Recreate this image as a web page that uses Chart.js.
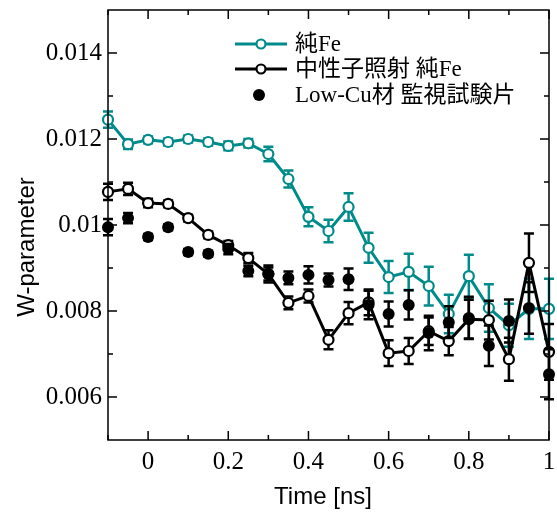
<!DOCTYPE html>
<html>
<head>
<meta charset="utf-8">
<title>W-parameter vs time</title>
<script src="https://cdn.jsdelivr.net/npm/chart.js@4.4.0/dist/chart.umd.min.js"></script>
<style>
  html, body { margin: 0; padding: 0; background: #fff; }
  #wrap { width: 557px; height: 514px; }
</style>
</head>
<body>
<div id="wrap"><canvas id="wChart" width="557" height="514"></canvas></div>
<script>
// time points (ns)
const times = [-0.1, -0.05, 0, 0.05, 0.1, 0.15, 0.2, 0.25, 0.3, 0.35, 0.4, 0.45,
  0.5, 0.55, 0.6, 0.65, 0.7, 0.75, 0.8, 0.85, 0.9, 0.95, 1.0];

// 純Fe
const pureFe = [0.01245, 0.01188, 0.01198, 0.01193, 0.01200, 0.01193, 0.01184, 0.01190,
  0.01165, 0.01107, 0.01019, 0.00986, 0.01042, 0.00947, 0.00879, 0.00891, 0.00858,
  0.00793, 0.00881, 0.00807, 0.00767, 0.00805, 0.00805];
const pureFeErr = [0.00019, 0.00011, 0.00008, 0.00008, 0.00008, 0.00008, 0.0001, 0.0001,
  0.00017, 0.0002, 0.00022, 0.00026, 0.00032, 0.00035, 0.00037, 0.00042, 0.00045,
  0.00045, 0.0005, 0.00055, 0.0005, 0.0007, 0.0007];

// 中性子照射 純Fe
const irrFe = [0.01077, 0.01084, 0.01051, 0.01049, 0.01016, 0.00977, 0.00953, 0.00923,
  0.00886, 0.00819, 0.00835, 0.00733, 0.00795, 0.0082, 0.00702, 0.00707, 0.00753,
  0.0073, 0.00781, 0.00779, 0.00688, 0.00912, 0.00705];
const irrFeErr = [0.00019, 0.00014, 0.0001, 0.00008, 0.00008, 0.00008, 0.0001, 0.00012,
  0.00015, 0.00015, 0.00015, 0.00022, 0.00026, 0.0003, 0.0003, 0.0003, 0.00032,
  0.00033, 0.00045, 0.00045, 0.0005, 0.00068, 0.00065];

// Low-Cu材 監視試験片
const lowCu = [0.00995, 0.01016, 0.00972, 0.00995, 0.00937, 0.00933, 0.00944, 0.00893,
  0.00886, 0.00877, 0.00884, 0.00872, 0.00874, 0.00814, 0.00793, 0.00814, 0.00749,
  0.00774, 0.00784, 0.00719, 0.00777, 0.00807, 0.00653];
const lowCuErr = [0.00019, 0.00012, 0.00007, 0.00007, 0.00007, 0.00007, 0.00012, 0.00012,
  0.0002, 0.00015, 0.0002, 0.00015, 0.00025, 0.00033, 0.00029, 0.00034, 0.0004,
  0.00037, 0.00049, 0.00047, 0.0005, 0.0006, 0.00058];

const xTicks = [0, 0.2, 0.4, 0.6, 0.8, 1];
const xMinorTicks = [-0.1, 0.1, 0.3, 0.5, 0.7, 0.9];
const yTicks = [0.006, 0.008, 0.01, 0.012, 0.014];
const yMinorTicks = [0.007, 0.009, 0.011, 0.013];

const TEAL = '#008b8b';
const serif = '"Liberation Serif", "Noto Sans CJK JP", serif';
const sans = '"Liberation Sans", Arial, sans-serif';

const toPoints = (vals) => times.map((t, i) => ({ x: t, y: vals[i] }));

// scales get a fixed box; labels may overhang the plot edges
const noPad = (s) => { s.paddingTop = s.paddingBottom = s.paddingLeft = s.paddingRight = 0; };

// error bars, frame, inward ticks, axis titles and legend
const plotDecor = {
  id: 'plotDecor',
  beforeDatasetDraw(chart, args) {
    const ds = chart.data.datasets[args.index];
    if (!ds.errors) return;
    const { ctx, scales: { x, y } } = chart;
    ctx.save();
    ctx.strokeStyle = ds.borderColor;
    ctx.lineWidth = 2.5;
    ds.data.forEach((p, i) => {
      const px = x.getPixelForValue(p.x);
      const top = y.getPixelForValue(p.y + ds.errors[i]);
      const bot = y.getPixelForValue(p.y - ds.errors[i]);
      ctx.beginPath();
      ctx.moveTo(px, top); ctx.lineTo(px, bot);
      ctx.moveTo(px - 5, top); ctx.lineTo(px + 5, top);
      ctx.moveTo(px - 5, bot); ctx.lineTo(px + 5, bot);
      ctx.stroke();
    });
    ctx.restore();
  },
  afterDraw(chart) {
    const { ctx, chartArea: a, scales: { x, y } } = chart;
    ctx.save();
    ctx.strokeStyle = '#000';
    ctx.lineWidth = 1.5;
    ctx.strokeRect(a.left, a.top, a.right - a.left, a.bottom - a.top);

    const tickX = (vals, len) => vals.forEach(v => {
      const px = x.getPixelForValue(v);
      ctx.beginPath();
      ctx.moveTo(px, a.bottom); ctx.lineTo(px, a.bottom - len);
      ctx.moveTo(px, a.top); ctx.lineTo(px, a.top + len);
      ctx.stroke();
    });
    const tickY = (vals, len) => vals.forEach(v => {
      const py = y.getPixelForValue(v);
      ctx.beginPath();
      ctx.moveTo(a.left, py); ctx.lineTo(a.left + len, py);
      ctx.moveTo(a.right, py); ctx.lineTo(a.right - len, py);
      ctx.stroke();
    });
    tickX(xTicks, 9); tickX(xMinorTicks, 5);
    tickY(yTicks, 9); tickY(yMinorTicks, 5);

    // axis titles
    ctx.fillStyle = '#000';
    ctx.font = '24px ' + sans;
    ctx.textAlign = 'center';
    ctx.textBaseline = 'middle';
    ctx.fillText('Time [ns]', 323, 497);
    ctx.save();
    ctx.translate(27, 247);
    ctx.rotate(-Math.PI / 2);
    ctx.fillText('W-parameter', 0, 0);
    ctx.restore();

    // legend
    const rows = [
      { text: '純Fe', color: TEAL, y: 44, line: true },
      { text: '中性子照射 純Fe', color: '#000', y: 69, line: true },
      { text: 'Low-Cu材 監視試験片', color: '#000', y: 95, line: false }
    ];
    ctx.font = '23px ' + serif;
    ctx.textAlign = 'left';
    rows.forEach(r => {
      ctx.strokeStyle = r.color;
      ctx.fillStyle = r.color;
      if (r.line) {
        ctx.lineWidth = 3;
        ctx.beginPath();
        ctx.moveTo(235, r.y); ctx.lineTo(287, r.y);
        ctx.stroke();
        ctx.beginPath();
        ctx.arc(261, r.y, 4.5, 0, Math.PI * 2);
        ctx.fillStyle = '#fff';
        ctx.fill();
        ctx.lineWidth = 2.2;
        ctx.stroke();
      } else {
        ctx.beginPath();
        ctx.arc(259, r.y, 6, 0, Math.PI * 2);
        ctx.fill();
      }
      ctx.fillStyle = '#000';
      ctx.fillText(r.text, 295, r.y + 1);
    });
    ctx.restore();
  }
};

new Chart(document.getElementById('wChart').getContext('2d'), {
  type: 'line',
  data: {
    datasets: [
      {
        label: '純Fe',
        data: toPoints(pureFe),
        errors: pureFeErr,
        borderColor: TEAL,
        borderWidth: 3,
        pointRadius: 5,
        pointBorderWidth: 2.2,
        pointBackgroundColor: '#fff',
        pointBorderColor: TEAL,
        clip: false,
        order: 3
      },
      {
        label: '中性子照射 純Fe',
        data: toPoints(irrFe),
        errors: irrFeErr,
        borderColor: '#000',
        borderWidth: 3,
        pointRadius: 5,
        pointBorderWidth: 2.2,
        pointBackgroundColor: '#fff',
        pointBorderColor: '#000',
        clip: false,
        order: 2
      },
      {
        label: 'Low-Cu材 監視試験片',
        data: toPoints(lowCu),
        errors: lowCuErr,
        borderColor: '#000',
        showLine: false,
        pointRadius: 6,
        pointBorderWidth: 0,
        pointBackgroundColor: '#000',
        clip: false,
        order: 1
      }
    ]
  },
  options: {
    responsive: false,
    animation: false,
    devicePixelRatio: 1,
    layout: { padding: { left: 0, top: 10, right: 8, bottom: 0 } },
    plugins: { legend: { display: false }, tooltip: { enabled: false } },
    scales: {
      x: {
        type: 'linear',
        min: -0.1,
        max: 1.0,
        afterBuildTicks: s => { s.ticks = xTicks.map(v => ({ value: v })); },
        afterFit: s => { s.height = 74; noPad(s); },
        grid: { display: false, drawTicks: false },
        border: { display: false },
        ticks: {
          autoSkip: false,
          maxRotation: 0,
          padding: 7,
          color: '#000',
          font: { family: serif, size: 25 },
          callback: v => String(v)
        }
      },
      y: {
        type: 'linear',
        min: 0.005,
        max: 0.015,
        afterBuildTicks: s => { s.ticks = yTicks.map(v => ({ value: v })); },
        afterFit: s => { s.width = 108; noPad(s); },
        grid: { display: false, drawTicks: false },
        border: { display: false },
        ticks: {
          padding: 6,
          color: '#000',
          font: { family: serif, size: 25 },
          callback: v => String(v)
        }
      }
    }
  },
  plugins: [plotDecor]
});
</script>
</body>
</html>
